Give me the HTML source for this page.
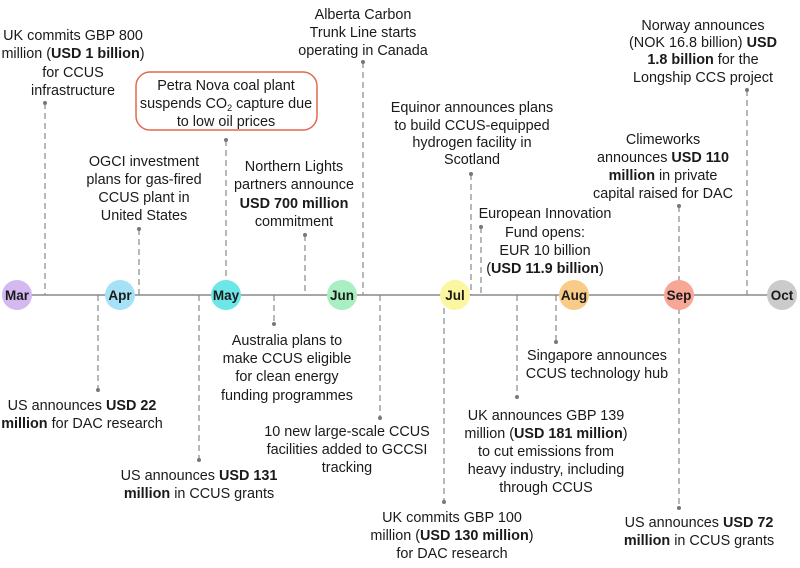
<!DOCTYPE html>
<html><head><meta charset="utf-8"><style>
html,body{margin:0;padding:0;background:#fff}
svg{display:block}
text{font-family:"Liberation Sans",Arial,sans-serif;font-size:14.4px;fill:#1a1a1a;text-anchor:middle}
.b{font-weight:bold}
.m{font-weight:bold;font-size:13.5px}
.d{stroke:#888;stroke-width:1.2;stroke-dasharray:6,4;fill:none}
</style></head><body>
<svg width="800" height="568" viewBox="0 0 800 568" xmlns="http://www.w3.org/2000/svg">
<line x1="17" y1="295" x2="782" y2="295" stroke="#8a8a8a" stroke-width="1.5"/>
<g class="d">
<line x1="45" y1="103" x2="45" y2="295"/>
<line x1="139" y1="229" x2="139" y2="295"/>
<line x1="226" y1="140" x2="226" y2="282"/>
<line x1="305" y1="235" x2="305" y2="295"/>
<line x1="363" y1="62" x2="363" y2="295"/>
<line x1="471" y1="174" x2="471" y2="295"/>
<line x1="481" y1="227" x2="481" y2="295"/>
<line x1="679" y1="206" x2="679" y2="282"/>
<line x1="747" y1="90" x2="747" y2="295"/>
<line x1="98" y1="295" x2="98" y2="390"/>
<line x1="199" y1="295" x2="199" y2="460"/>
<line x1="274" y1="295" x2="274" y2="324"/>
<line x1="380" y1="295" x2="380" y2="418"/>
<line x1="444" y1="308" x2="444" y2="502"/>
<line x1="517" y1="295" x2="517" y2="397"/>
<line x1="556" y1="295" x2="556" y2="342"/>
<line x1="679" y1="308" x2="679" y2="508"/>
</g>
<g fill="#777">
<circle cx="45" cy="103" r="2"/><circle cx="139" cy="229" r="2"/><circle cx="226" cy="140" r="2"/>
<circle cx="305" cy="235" r="2"/><circle cx="363" cy="62" r="2"/><circle cx="471" cy="174" r="2"/>
<circle cx="481" cy="227" r="2"/><circle cx="679" cy="206" r="2"/><circle cx="747" cy="90" r="2"/>
<circle cx="98" cy="390" r="2"/><circle cx="199" cy="460" r="2"/><circle cx="274" cy="324" r="2"/>
<circle cx="380" cy="418" r="2"/><circle cx="444" cy="502" r="2"/><circle cx="517" cy="397" r="2"/>
<circle cx="556" cy="342" r="2"/><circle cx="679" cy="508" r="2"/>
</g>
<circle cx="17" cy="295" r="15" fill="#d4b8f0"/><text x="17" y="300" class="m">Mar</text>
<circle cx="120" cy="295" r="15" fill="#a6e2f6"/><text x="120" y="300" class="m">Apr</text>
<circle cx="226" cy="295" r="15" fill="#6ce6e6"/><text x="226" y="300" class="m">May</text>
<circle cx="342" cy="295" r="15" fill="#a8f0c2"/><text x="342" y="300" class="m">Jun</text>
<circle cx="455" cy="295" r="15" fill="#fbf6a0"/><text x="455" y="300" class="m">Jul</text>
<circle cx="574" cy="295" r="15" fill="#f8cb88"/><text x="574" y="300" class="m">Aug</text>
<circle cx="679" cy="295" r="15" fill="#f8a696"/><text x="679" y="300" class="m">Sep</text>
<circle cx="782" cy="295" r="15" fill="#cbcbcb"/><text x="782" y="300" class="m">Oct</text>
<text x="73" y="40">UK commits GBP 800</text>
<text x="73" y="58">million (<tspan class="b">USD 1 billion</tspan>)</text>
<text x="73" y="77">for CCUS</text>
<text x="73" y="95">infrastructure</text>
<rect x="136" y="72" width="181" height="58" rx="14" fill="#fff" stroke="#e06a50" stroke-width="1.5"/>
<text x="226" y="90">Petra Nova coal plant</text>
<text x="226" y="108">suspends CO<tspan font-size="9" dy="3">2</tspan><tspan dy="-3"> capture due</tspan></text>
<text x="226" y="126">to low oil prices</text>
<text x="144" y="166">OGCI investment</text>
<text x="144" y="184">plans for gas-fired</text>
<text x="144" y="202">CCUS plant in</text>
<text x="144" y="220">United States</text>
<text x="294" y="171">Northern Lights</text>
<text x="294" y="189">partners announce</text>
<text x="294" y="208" class="b">USD 700 million</text>
<text x="294" y="226">commitment</text>
<text x="363" y="19">Alberta Carbon</text>
<text x="363" y="37">Trunk Line starts</text>
<text x="363" y="55">operating in Canada</text>
<text x="472" y="112">Equinor announces plans</text>
<text x="472" y="130">to build CCUS-equipped</text>
<text x="472" y="147">hydrogen facility in</text>
<text x="472" y="164">Scotland</text>
<text x="545" y="218">European Innovation</text>
<text x="545" y="237">Fund opens:</text>
<text x="545" y="255">EUR 10 billion</text>
<text x="545" y="273">(<tspan class="b">USD 11.9 billion</tspan>)</text>
<text x="663" y="144">Climeworks</text>
<text x="663" y="162">announces <tspan class="b">USD 110</tspan></text>
<text x="663" y="180"><tspan class="b">million</tspan> in private</text>
<text x="663" y="198">capital raised for DAC</text>
<text x="703" y="30">Norway announces</text>
<text x="703" y="47">(NOK 16.8 billion) <tspan class="b">USD</tspan></text>
<text x="703" y="64"><tspan class="b">1.8 billion</tspan> for the</text>
<text x="703" y="82">Longship CCS project</text>
<text x="287" y="345">Australia plans to</text>
<text x="287" y="363">make CCUS eligible</text>
<text x="287" y="381">for clean energy</text>
<text x="287" y="400">funding programmes</text>
<text x="82" y="410">US announces <tspan class="b">USD 22</tspan></text>
<text x="82" y="428"><tspan class="b">million</tspan> for DAC research</text>
<text x="199" y="480">US announces <tspan class="b">USD 131</tspan></text>
<text x="199" y="498"><tspan class="b">million</tspan> in CCUS grants</text>
<text x="347" y="436">10 new large-scale CCUS</text>
<text x="347" y="454">facilities added to GCCSI</text>
<text x="347" y="472">tracking</text>
<text x="597" y="360">Singapore announces</text>
<text x="597" y="378">CCUS technology hub</text>
<text x="546" y="420">UK announces GBP 139</text>
<text x="546" y="438">million (<tspan class="b">USD 181 million</tspan>)</text>
<text x="546" y="456">to cut emissions from</text>
<text x="546" y="474">heavy industry, including</text>
<text x="546" y="492">through CCUS</text>
<text x="452" y="522">UK commits GBP 100</text>
<text x="452" y="540">million (<tspan class="b">USD 130 million</tspan>)</text>
<text x="452" y="558">for DAC research</text>
<text x="699" y="527">US announces <tspan class="b">USD 72</tspan></text>
<text x="699" y="545"><tspan class="b">million</tspan> in CCUS grants</text>
</svg>
</body></html>
